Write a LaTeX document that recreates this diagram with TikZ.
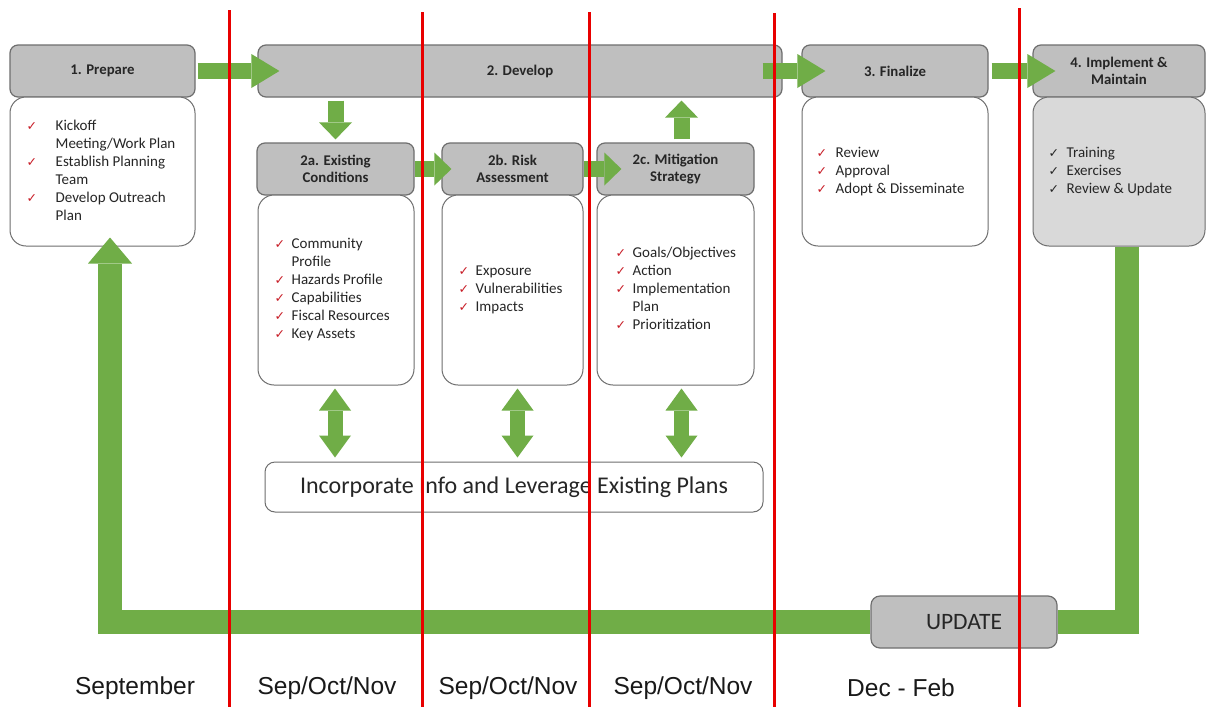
\documentclass[tikz,border=0pt]{standalone}
\usepackage{fontspec}
\setmainfont{Carlito}
\newfontfamily\arialf{Liberation Sans}
\newfontfamily\dejavu{DejaVu Sans}
\usetikzlibrary{arrows.meta}
\definecolor{grn}{RGB}{112,173,71}
\definecolor{hdrgray}{RGB}{191,191,191}
\definecolor{bord}{RGB}{110,110,110}
\definecolor{lgray}{RGB}{217,217,217}
\definecolor{chk}{RGB}{200,30,40}
\definecolor{txt}{RGB}{38,38,38}
\definecolor{redl}{RGB}{232,0,0}
\newcommand\ck{\textcolor{chk}{\dejavu\fontsize{12.5}{12.5}\selectfont ✓}}
\newcommand\bk{{\dejavu\fontsize{12.5}{12.5}\selectfont ✓}}
\newcommand\chklist[2]{\begin{tabular}{@{}p{#1}@{}l@{}}#2\end{tabular}}
\begin{document}
\begin{tikzpicture}[x=1pt,y=-1pt,
  hdr/.style={draw=bord, line width=1.2pt, fill=hdrgray, rounded corners=8pt, inner sep=0pt,
    align=center, font=\fontsize{14.8}{17}\selectfont\bfseries, text=txt, minimum height=52pt},
  bodybox/.style={draw=bord, line width=1pt, fill=white, rounded corners=16pt, inner sep=0pt},
  lst/.style={anchor=west, inner sep=0pt, font=\fontsize{15}{18}\selectfont, text=txt},
  garrow/.style={draw=grn, line width=16pt, -{Triangle[length=28pt,width=34pt,line width=0pt]}},
  sarrow/.style={draw=grn, line width=16pt, -{Triangle[length=17pt,width=33pt,line width=0pt]}},
  darrow/.style={draw=grn, line width=15pt, {Triangle[length=22pt,width=32pt,line width=0pt]}-{Triangle[length=22pt,width=32pt,line width=0pt]}},
  loopline/.style={draw=grn, line width=24pt, line join=miter},
  month/.style={font=\arialf\fontsize{24.5}{28}\selectfont, text=black!90, inner sep=0pt},
  redline/.style={draw=redl, line width=3pt}
]
\useasboundingbox (0,0) rectangle (1209,707);
\fill[white] (0,0) rectangle (1209,707);

% headers
\node[hdr, minimum width=185pt] (prep) at (102.5,71) {1. Prepare};
\node[hdr, minimum width=524pt] (dev) at (520,71) {2. Develop};
\node[hdr, minimum width=186pt] (fin) at (895,71) {3. Finalize};
\node[hdr, minimum width=172pt] (imp) at (1119,71) {4. Implement \&\\Maintain};
\node[hdr, minimum width=157pt] (ah) at (335.5,169) {2a. Existing\\Conditions};
\node[hdr, minimum width=141pt] (bh) at (512.5,169) {2b. Risk\\Assessment};
\node[hdr, minimum width=157pt] (ch) at (675.5,169) {2c. Mitigation\\Strategy};

% bodies
\node[bodybox, minimum width=185pt, minimum height=149pt] (prepb) at (102.5,171.5) {};
\node[bodybox, minimum width=186pt, minimum height=149pt] (finb) at (895,171.5) {};
\node[bodybox, fill=lgray, minimum width=172pt, minimum height=149pt] (impb) at (1119,171.5) {};
\node[bodybox, minimum width=156pt, minimum height=190pt] (ab) at (336,290) {};
\node[bodybox, minimum width=141pt, minimum height=190pt] (bb) at (512.5,290) {};
\node[bodybox, minimum width=157pt, minimum height=190pt] (cb) at (675.5,290) {};

% lists
\node[lst] (pl) at ([xshift=17pt]prepb.west) {\chklist{29pt}{\ck & Kickoff\\ & Meeting/Work Plan\\ \ck & Establish Planning\\ & Team\\ \ck & Develop Outreach\\ & Plan}};
\node[lst] (al) at ([xshift=17pt]ab.west) {\chklist{17pt}{\ck & Community\\ & Profile\\ \ck & Hazards Profile\\ \ck & Capabilities\\ \ck & Fiscal Resources\\ \ck & Key Assets}};
\node[lst] (bl) at ([xshift=17pt]bb.west) {\chklist{17pt}{\ck & Exposure\\ \ck & Vulnerabilities\\ \ck & Impacts}};
\node[lst] (cl) at ([xshift=19pt]cb.west) {\chklist{17pt}{\ck & Goals/Objectives\\ \ck & Action\\ \ck & Implementation\\ & Plan\\ \ck & Prioritization}};
\node[lst] (fl) at ([xshift=15pt]finb.west) {\chklist{19pt}{\ck & Review\\ \ck & Approval\\ \ck & Adopt \& Disseminate}};
\node[lst] (il) at ([xshift=16pt]impb.west) {\chklist{18pt}{\bk & Training\\ \bk & Exercises\\ \bk & Review \& Update}};

% bottom boxes
\node[draw=bord, line width=1pt, fill=white, rounded corners=10pt, minimum width=498pt, minimum height=50pt,
  font=\fontsize{24}{28}\selectfont, text=txt] (inc) at (514,487) {Incorporate Info and Leverage Existing Plans};
\node[draw=bord, line width=1.2pt, fill=hdrgray, rounded corners=9pt, minimum width=186pt, minimum height=52pt,
  font=\fontsize{23.5}{27}\selectfont, text=txt] (upd) at (964,622) {UPDATE};

% arrows along top
\draw[garrow] ([xshift=2pt]prep.east) -- ([xshift=22pt]dev.west);
\draw[garrow] ([xshift=-20pt]dev.east) -- ([xshift=24pt]fin.west);
\draw[garrow] ([xshift=3pt]fin.east) -- ([xshift=23pt]imp.west);
\draw[sarrow] (ah.east) -- ([xshift=10pt]bh.west);
\draw[sarrow] (bh.east) -- ([xshift=25pt]ch.west);

% develop <-> sub steps
\coordinate (d0) at (dev.south -| ah.north);
\draw[sarrow] ([yshift=-3pt]d0) -- ([yshift=3pt]ah.north);
\coordinate (u0) at ([xshift=6pt,yshift=3pt]ch.north);
\coordinate (u1) at (u0 |- dev.south);
\draw[sarrow] (u0) -- ([yshift=-3pt]u1);

% double arrows
\coordinate (da) at ([xshift=-1pt,yshift=-3pt]ab.south);
\coordinate (db) at ([xshift=5pt,yshift=-3pt]bb.south);
\coordinate (dc) at ([xshift=6pt,yshift=-3pt]cb.south);
\draw[darrow] (da) -- ([yshift=4pt]da |- inc.north);
\draw[darrow] (db) -- ([yshift=4pt]db |- inc.north);
\draw[darrow] (dc) -- ([yshift=4pt]dc |- inc.north);

% update loop
\draw[loopline] ([xshift=8pt]impb.south) |- (upd.east);
\draw[loopline, -{Triangle[length=26pt,width=44pt,line width=0pt]}] (upd.west) -| ([xshift=7.5pt,yshift=9pt]prepb.south);

% month labels
\node[month] (m1) at (135,688) {September};
\node[month] (m2) at (327,688) {Sep/Oct/Nov};
\node[month] (m3) at (508,688) {Sep/Oct/Nov};
\node[month] (m4) at (683,688) {Sep/Oct/Nov};
\node[month] (m5) at (901,688) {Dec - Feb};

% red separators
\draw[redline] (229,10) -- (229,707);
\draw[redline] (422,12) -- (422,707);
\draw[redline] (589,12) -- (589,707);
\draw[redline] (774,13) -- (774,707);
\draw[redline] (1019,8) -- (1019,707);
\end{tikzpicture}
\end{document}
